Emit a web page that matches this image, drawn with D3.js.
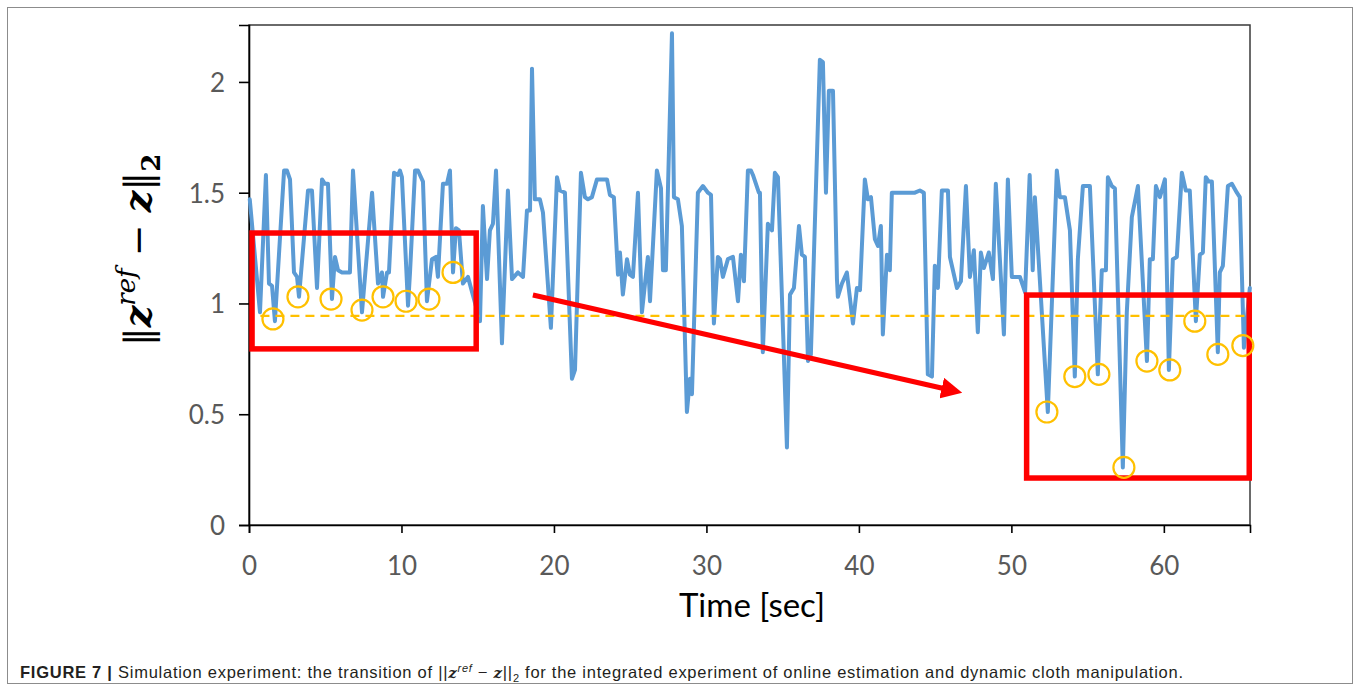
<!DOCTYPE html>
<html>
<head>
<meta charset="utf-8">
<script src="https://cdn.jsdelivr.net/npm/d3@7"></script>
<style>
  body { margin: 0; background: #fff; }
  svg { display: block; }
</style>
</head>
<body>
<script>
// time axis [sec] and ||z_ref - z||_2
var timeSec = [0.05,0.72,1.11,1.31,1.51,1.70,2.30,2.49,2.69,2.95,3.15,3.28,3.87,4.13,4.46,4.79,4.98,5.18,5.44,5.64,
  5.84,6.10,6.62,6.82,7.41,8.07,8.46,8.72,8.79,9.05,9.18,9.51,9.77,9.90,10.03,10.43,10.56,10.89,11.08,11.41,
  11.67,12.00,12.26,12.39,12.72,12.98,13.18,13.38,13.57,13.77,14.03,14.36,15.15,15.34,15.61,15.80,16.00,16.20,16.59,16.98,
  17.25,17.64,17.97,18.23,18.43,18.56,18.75,19.08,19.28,19.80,20.20,20.39,20.72,21.18,21.38,21.77,22.03,22.23,22.49,22.82,
  23.48,23.67,23.93,24.20,24.33,24.52,24.79,24.98,25.18,25.51,25.77,26.16,26.30,26.75,27.02,27.15,27.34,27.74,27.87,28.13,
  28.39,28.72,28.92,29.05,29.44,29.77,30.10,30.30,30.49,30.75,30.89,31.08,31.41,31.74,32.07,32.26,32.46,32.72,32.92,33.05,
  33.44,33.51,33.70,34.03,34.30,34.49,34.69,35.28,35.48,35.74,36.07,36.26,36.46,36.66,36.85,37.44,37.64,37.84,38.03,38.30,
  38.56,38.62,38.89,39.21,39.61,39.87,40.07,40.39,40.59,40.79,41.05,41.25,41.44,41.57,41.84,42.03,42.16,43.67,44.00,44.26,
  44.52,44.79,44.98,45.18,45.44,45.84,45.97,46.43,46.69,47.02,47.28,47.54,47.80,48.00,48.20,48.52,48.79,48.98,49.51,49.77,
  50.03,50.56,50.90,51.20,51.40,51.54,52.39,52.98,53.18,53.51,53.84,54.16,54.36,54.69,55.02,55.15,55.67,55.93,56.20,56.33,
  56.59,56.79,57.31,57.57,57.90,58.30,58.89,59.08,59.28,59.48,59.74,60.07,60.33,60.59,60.85,61.18,61.44,61.70,62.10,62.36,
  62.56,62.75,62.95,63.15,63.54,63.67,63.87,64.20,64.46,64.79,64.98,65.25,65.64];

var errNorm = [1.47,0.96,1.58,1.09,1.08,0.92,1.60,1.60,1.56,1.14,1.12,1.03,1.51,1.51,1.07,1.56,1.54,1.54,1.02,1.21,
  1.15,1.14,1.14,1.60,0.96,1.50,1.09,1.14,1.03,1.14,1.14,1.59,1.58,1.60,1.57,0.99,1.14,1.60,1.60,1.55,
  1.01,1.20,1.21,1.12,1.54,1.54,1.60,1.14,1.34,1.33,1.09,1.12,0.92,1.44,1.11,1.33,1.36,1.60,0.82,1.51,
  1.11,1.14,1.12,1.42,1.42,2.06,1.47,1.47,1.41,0.89,1.57,1.51,1.50,0.66,0.70,1.59,1.48,1.47,1.48,1.56,
  1.56,1.49,1.48,1.13,1.23,1.04,1.20,1.13,1.12,1.50,0.96,1.21,1.01,1.60,1.52,1.15,1.15,2.22,1.48,1.47,
  1.35,0.51,0.66,0.59,1.50,1.53,1.50,1.49,0.91,1.21,1.20,1.12,1.20,1.21,1.01,1.22,1.10,1.60,1.60,1.58,
  1.50,1.50,0.78,1.36,1.33,1.59,1.57,0.35,1.04,1.07,1.35,1.22,1.21,0.74,0.77,2.10,2.09,1.50,1.96,1.96,
  1.11,1.03,1.09,1.14,0.91,1.07,1.06,1.56,1.47,1.48,1.29,1.26,1.35,0.86,1.22,1.15,1.50,1.50,1.51,1.50,
  0.68,0.67,1.17,1.07,1.51,1.51,1.21,1.07,1.10,1.53,1.12,1.24,0.87,1.23,1.16,1.23,1.11,1.54,0.86,1.56,
  1.12,1.12,1.05,1.58,1.15,1.48,0.51,1.60,1.48,1.48,1.33,0.67,1.20,1.53,1.53,1.53,0.68,1.15,1.15,1.57,
  1.53,1.52,0.26,0.96,1.39,1.53,0.74,1.20,1.20,1.53,1.48,1.56,0.70,1.20,1.21,1.59,1.51,1.51,0.92,1.22,
  1.23,1.57,1.55,1.55,0.78,1.14,1.17,1.53,1.54,1.50,1.48,0.80,1.07];

// highlighted local minima (yellow circles)
var circleT = [1.57,3.21,5.38,7.41,8.79,10.30,11.80,13.38, 52.33,54.16,55.74,57.38,58.89,60.39,62.03,63.54,65.18];
var circleV = [0.93,1.03,1.02,0.97,1.03,1.01,1.02,1.14, 0.51,0.67,0.68,0.26,0.74,0.70,0.92,0.77,0.81];

var thresholdV = 0.944;
var thresholdT = [0.75, 65.5];

// red boxes [t0, t1, vTop, vBottom]
var boxT0 = [0.2, 51.0];
var boxT1 = [14.9, 65.6];
var boxVTop = [1.318, 1.038];
var boxVBot = [0.795, 0.212];

// trend arrow from -> to
var arrowT = [18.62, 46.75];
var arrowV = [1.038, 0.596];

var xTicks = [0, 10, 20, 30, 40, 50, 60];
var yTicks = [0, 0.5, 1, 1.5, 2];

var W = 1360, H = 691;
var plotL = 249, plotR = 1250, plotT = 25, plotB = 525;

var svg = d3.select("body").append("svg")
    .attr("width", W)
    .attr("height", H);

// figure frame
svg.append("rect")
    .attr("x", 7.5).attr("y", 7.5)
    .attr("width", 1345).attr("height", 676)
    .attr("fill", "none")
    .attr("stroke", "#8c8c8c")
    .attr("stroke-width", 1);

var x = d3.scaleLinear().domain([0, 65.65]).range([plotL, plotR]);
var y = d3.scaleLinear().domain([0, 2.257]).range([plotB, plotT]);

// plot frame (top/right)
svg.append("rect")
    .attr("x", plotL).attr("y", plotT)
    .attr("width", plotR - plotL).attr("height", plotB - plotT)
    .attr("fill", "none")
    .attr("stroke", "#3a3a3a")
    .attr("stroke-width", 1.5);

var tickFont = "Lato, 'Open Sans', sans-serif";

var yAxis = svg.append("g")
    .attr("transform", "translate(" + plotL + ",0)")
    .call(d3.axisLeft(y).tickValues(yTicks).tickSize(10).tickPadding(14)
      .tickFormat(function(d) { return d3.format("")(d); }));
var xAxis = svg.append("g")
    .attr("transform", "translate(0," + plotB + ")")
    .call(d3.axisBottom(x).tickValues(xTicks).tickSize(8).tickPadding(24));

[xAxis, yAxis].forEach(function(ax) {
  ax.select(".domain").attr("stroke", "#000").attr("stroke-width", 1.6);
  ax.selectAll(".tick line").attr("stroke", "#000").attr("stroke-width", 1.6);
  ax.selectAll(".tick text")
    .attr("fill", "#595959")
    .style("font-family", tickFont)
    .style("font-size", "26px");
});
yAxis.selectAll(".tick text").attr("dy", "0.36em");

// x title
svg.append("text")
    .attr("x", 752).attr("y", 617)
    .attr("text-anchor", "middle")
    .style("font-family", tickFont)
    .style("font-size", "33px")
    .attr("fill", "#000")
    .text("Time [sec]");

// y title: ||z^ref - z||_2
var yt = svg.append("text")
    .attr("transform", "translate(151,250) rotate(-90)")
    .attr("text-anchor", "middle")
    .style("font-family", "'DejaVu Serif', serif")
    .style("font-size", "38px")
    .attr("fill", "#000");
yt.append("tspan").text("\u2016");
yt.append("tspan").style("font-weight", "bold").style("font-style", "italic").text("z");
yt.append("tspan").attr("dy", -16).style("font-style", "italic").style("font-size", "26px").text("ref");
yt.append("tspan").attr("dy", 16).text(" \u2212 ");
yt.append("tspan").style("font-weight", "bold").style("font-style", "italic").text("z");
yt.append("tspan").text("\u2016");
yt.append("tspan").attr("dy", 9).style("font-weight", "bold").style("font-size", "26px").text("2");

// series
var pts = timeSec.map(function(t, i) { return [t, errNorm[i]]; });
var line = d3.line()
    .x(function(d) { return x(d[0]); })
    .y(function(d) { return y(d[1]); });

svg.append("path")
    .datum(pts)
    .attr("d", line)
    .attr("fill", "none")
    .attr("stroke", "#5B9BD5")
    .attr("stroke-width", 4)
    .attr("stroke-linejoin", "round")
    .attr("stroke-linecap", "round");

// threshold dashed line
svg.append("line")
    .attr("x1", x(thresholdT[0])).attr("x2", x(thresholdT[1]))
    .attr("y1", y(thresholdV)).attr("y2", y(thresholdV))
    .attr("stroke", "#FFC000")
    .attr("stroke-width", 2.2)
    .attr("stroke-dasharray", "9,6");

// red boxes
svg.selectAll(".box")
    .data(boxT0)
    .enter().append("rect")
    .attr("class", "box")
    .attr("x", function(d) { return x(d); })
    .attr("y", function(d, i) { return y(boxVTop[i]); })
    .attr("width", function(d, i) { return x(boxT1[i]) - x(d); })
    .attr("height", function(d, i) { return y(boxVBot[i]) - y(boxVTop[i]); })
    .attr("fill", "none")
    .attr("stroke", "#FF0000")
    .attr("stroke-width", 5.5);

// arrow
svg.append("defs").append("marker")
    .attr("id", "head")
    .attr("viewBox", "0 0 10 10")
    .attr("refX", 2).attr("refY", 5)
    .attr("markerWidth", 4.2).attr("markerHeight", 4.2)
    .attr("markerUnits", "strokeWidth")
    .attr("orient", "auto")
    .append("path")
    .attr("d", "M0,0 L10,5 L0,10 z")
    .attr("fill", "#FF0000");

svg.append("line")
    .attr("x1", x(arrowT[0])).attr("y1", y(arrowV[0]))
    .attr("x2", x(arrowT[1]) - 16).attr("y2", y(arrowV[1]) - 4)
    .attr("stroke", "#FF0000")
    .attr("stroke-width", 5)
    .attr("marker-end", "url(#head)");

// circles
svg.selectAll(".mark")
    .data(circleT)
    .enter().append("circle")
    .attr("class", "mark")
    .attr("cx", function(d) { return x(d); })
    .attr("cy", function(d, i) { return y(circleV[i]); })
    .attr("r", 10.5)
    .attr("fill", "none")
    .attr("stroke", "#FFC000")
    .attr("stroke-width", 2.2);

// caption
var cap = svg.append("text")
    .attr("x", 20).attr("y", 678)
    .attr("textLength", 1163)
    .attr("lengthAdjust", "spacing")
    .style("font-family", "'Liberation Sans', Arial, sans-serif")
    .style("font-size", "16.5px")
    .attr("fill", "#231F20");
cap.append("tspan").style("font-weight", "bold").text("FIGURE 7 | ");
cap.append("tspan").text("Simulation experiment: the transition of ||");
cap.append("tspan").style("font-family", "'DejaVu Serif', serif").style("font-weight", "bold").style("font-style", "italic").style("font-size", "15px").text("z");
cap.append("tspan").attr("dy", -6).style("font-style", "italic").style("font-size", "11px").text("ref");
cap.append("tspan").attr("dy", 6).text(" \u2212 ");
cap.append("tspan").style("font-family", "'DejaVu Serif', serif").style("font-weight", "bold").style("font-style", "italic").style("font-size", "15px").text("z");
cap.append("tspan").text("||");
cap.append("tspan").attr("dy", 4).style("font-size", "11px").text("2");
cap.append("tspan").attr("dy", -4).text(" for the integrated experiment of online estimation and dynamic cloth manipulation.");
</script>
</body>
</html>
